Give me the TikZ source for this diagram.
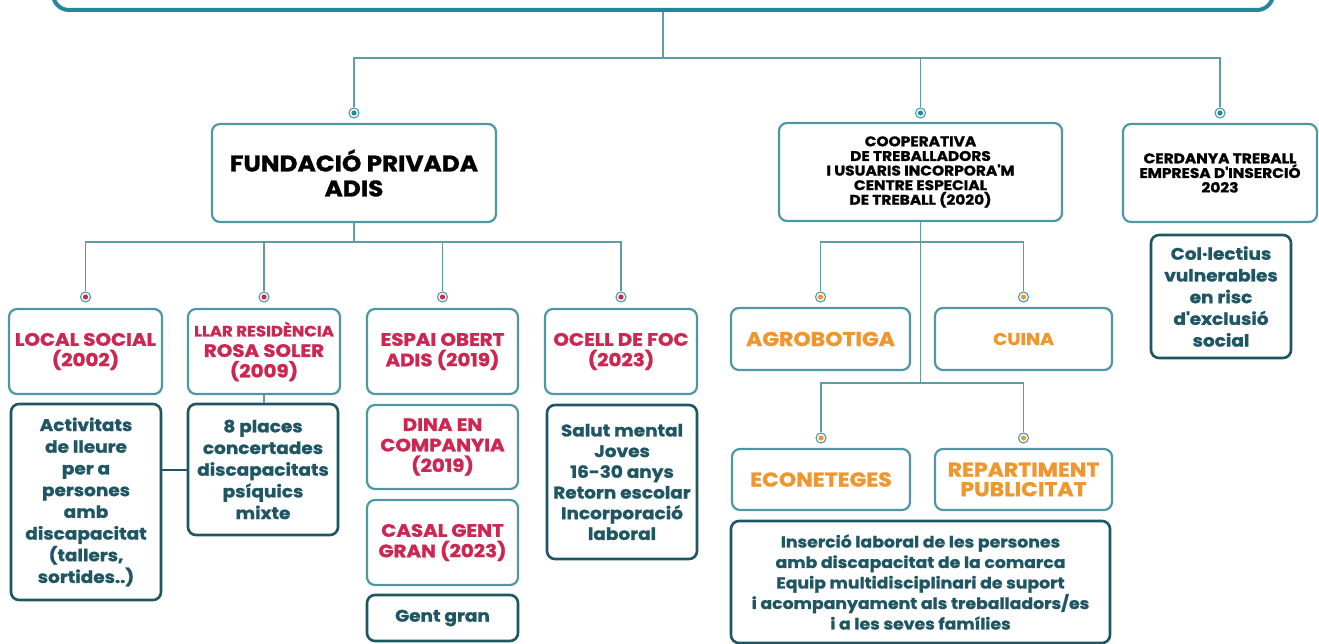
\documentclass[tikz,border=0pt]{standalone}
\usepackage{fontspec}
\setmainfont{Poppins}[BoldFeatures={FakeBold=1.2, FakeStretch=1.1}]
\definecolor{topc}{HTML}{23899A}
\definecolor{connc}{HTML}{5E9CA6}
\definecolor{boxc}{HTML}{4F98A3}
\definecolor{darkc}{HTML}{1F5663}
\definecolor{redc}{HTML}{CC2651}
\definecolor{orc}{HTML}{F0962F}
\definecolor{ringc}{HTML}{4F98A3}
\tikzset{
  box/.style={draw=boxc, line width=2.2pt, rounded corners=8pt, fill=white, align=center, inner sep=0pt},
  dbox/.style={box, draw=darkc, line width=2.6pt, text=darkc},
  sz/.style 2 args={minimum width=#1, minimum height=#2},
  conn/.style={draw=connc, line width=1.6pt},
  dot/.style={circle, draw=ringc, fill=white, line width=1.1pt, minimum size=10pt, inner sep=0pt,
    path picture={\fill[#1] (path picture bounding box.center) circle (2.6pt);}},
  blk/.style={font=\bfseries\fontsize{14}{14.6}\selectfont, text=black},
  redt/.style={font=\bfseries\fontsize{18}{20.5}\selectfont, text=redc},
  ort/.style={font=\bfseries\fontsize{20}{19.5}\selectfont, text=orc},
  dkt/.style={font=\bfseries\fontsize{16.8}{21.7}\selectfont},
}
\begin{document}
\begin{tikzpicture}[x=1pt, y=-1pt]
\useasboundingbox (0,0) rectangle (1319,644);
\clip (0,0) rectangle (1319,644);
% levels
\coordinate (L1) at (0,58);
\coordinate (L1d) at (0,113);
\coordinate (L2) at (0,242);
\coordinate (L2d) at (0,297);
\coordinate (L4) at (0,383);
\coordinate (L4d) at (0,438);

% top box (clipped)
\node[box, draw=topc, line width=4pt, rounded corners=16pt, sz={1220pt}{60pt}] (top) at (663,-20) {};

% level 1 boxes
\node[box, sz={284pt}{98pt}, font=\bfseries\fontsize{22.5}{25}\selectfont] (fund) at (354,173) {FUNDACIÓ PRIVADA\\ADIS};
\node[box, sz={283pt}{98pt}, blk] (coop) at (920.5,172) {COOPERATIVA\\DE TREBALLADORS\\I USUARIS INCORPORA\textquotesingle M\\CENTRE ESPECIAL\\DE TREBALL (2020)};
\node[box, sz={194pt}{98pt}, blk] (cerd) at (1220,173) {CERDANYA TREBALL\\EMPRESA D\textquotesingle INSERCIÓ\\2023};
\node[dbox, sz={140pt}{123pt}, dkt] (col) at (1221,296.5) {Col·lectius\\vulnerables\\en risc\\d\textquotesingle exclusió\\social};

% dots level 1
\node[dot=topc] (dF) at (fund.north |- L1d) {};
\node[dot=topc] (dC) at (coop.north |- L1d) {};
\node[dot=topc] (dK) at (cerd.north |- L1d) {};
\draw[conn] (top.south) -- (top.south |- L1);
\draw[conn] (dF.north) |- (dK.north |- L1) -- (dK.north);
\draw[conn] (dC.north) -- (dC.north |- L1);

% Fundacio children
\node[box, sz={153pt}{85pt}, redt] (local) at (85.5,351.5) {LOCAL SOCIAL\\(2002)};
\node[box, sz={152pt}{85pt}, redt] (llar) at (264,351.5) {{\fontsize{15}{18}\selectfont LLAR RESIDÈNCIA}\\ROSA SOLER\\(2009)};
\node[box, sz={151pt}{85pt}, redt] (espai) at (442.5,351.5) {ESPAI OBERT\\ADIS (2019)};
\node[box, sz={152pt}{85pt}, redt] (ocell) at (621,351.5) {OCELL DE FOC\\(2023)};

\node[dot=redc] (d1) at (local.north |- L2d) {};
\node[dot=redc] (d2) at (llar.north |- L2d) {};
\node[dot=redc] (d3) at (espai.north |- L2d) {};
\node[dot=redc] (d4) at (ocell.north |- L2d) {};
\draw[conn] (fund.south) -- (fund.south |- L2);
\draw[conn] (d1.north) |- (d4.north |- L2) -- (d4.north);
\draw[conn] (d2.north) -- (d2.north |- L2);
\draw[conn] (d3.north) -- (d3.north |- L2);

\node[dbox, sz={150pt}{196pt}, dkt] (activ) at (86,502) {Activitats\\de lleure\\per a\\persones\\amb\\discapacitat\\(tallers,\\sortides..)};
\node[dbox, sz={150pt}{131pt}, dkt] (places) at (263,469.5) {8 places\\concertades\\discapacitats\\psíquics\\mixte};
\draw[conn] (llar.south) -- (llar.south |- places.north);
\draw[conn, draw=darkc, line width=2pt] (activ.east |- places.west) -- (places.west);

\node[box, sz={151pt}{84pt}, redt] (dina) at (442.5,447) {DINA EN\\COMPANYIA\\(2019)};
\node[box, sz={151pt}{85pt}, redt] (casal) at (442.5,542.5) {CASAL GENT\\GRAN (2023)};
\node[dbox, sz={151pt}{46pt}, dkt] (gent) at (442.5,618) {Gent gran};
\node[dbox, sz={150pt}{154pt}, font=\bfseries\fontsize{16.8}{20.7}\selectfont] (salut) at (622,482) {Salut mental\\Joves\\16-30 anys\\Retorn escolar\\Incorporació\\laboral};

% Cooperativa children
\node[box, sz={179pt}{62pt}, ort] (agro) at (820.5,339) {AGROBOTIGA};
\node[box, sz={177pt}{62pt}, ort, font=\bfseries\fontsize{17}{18}\selectfont] (cuina) at (1023.5,339) {CUINA};
\node[box, sz={178pt}{61pt}, ort] (econ) at (821,479.5) {ECONETEGES};
\node[box, sz={177pt}{61pt}, ort] (repart) at (1023.5,479.5) {REPARTIMENT\\PUBLICITAT};
\node[dbox, sz={379pt}{122pt}, font=\bfseries\fontsize{15.7}{20.5}\selectfont] (inser) at (920.5,582) {Inserció laboral de les persones\\amb discapacitat de la comarca\\Equip multidisciplinari de suport\\i acompanyament als treballadors/es\\i a les seves famílies};

\node[dot=orc] (dA) at (agro.north |- L2d) {};
\node[dot=orc] (dCu) at (cuina.north |- L2d) {};
\node[dot=orc] (dE) at (econ.north |- L4d) {};
\node[dot=orc] (dR) at (repart.north |- L4d) {};
\draw[conn] (coop.south) -- (coop.south |- L4);
\draw[conn] (dA.north) |- (dCu.north |- L2) -- (dCu.north);
\draw[conn] (dE.north) |- (dR.north |- L4) -- (dR.north);
\end{tikzpicture}
\end{document}
